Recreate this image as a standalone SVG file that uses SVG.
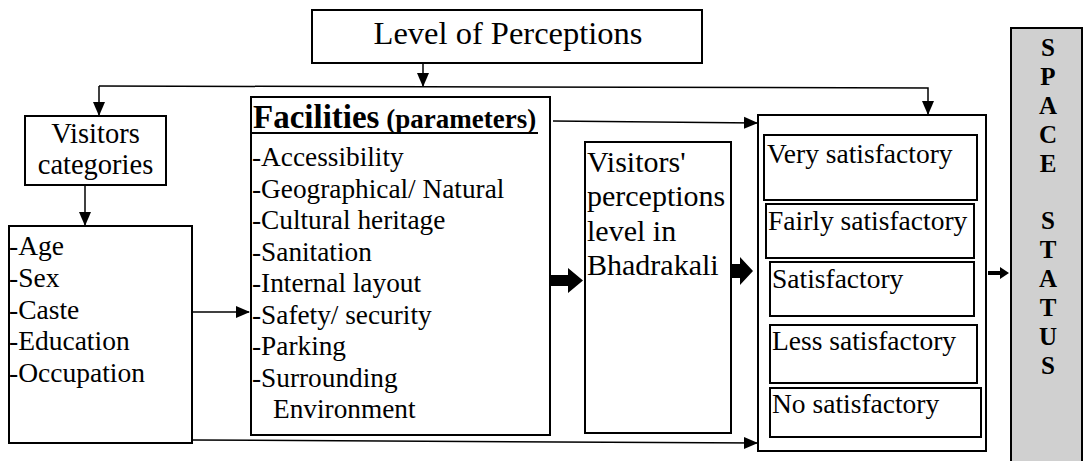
<svg xmlns="http://www.w3.org/2000/svg" width="1083" height="461" viewBox="0 0 1083 461">
<defs>
<marker id="ah" markerWidth="14" markerHeight="14" refX="13" refY="7" orient="auto" markerUnits="userSpaceOnUse">
<path d="M0,1 L14,7 L0,13 Z" fill="#000"/>
</marker>
<style>
.box{fill:#fff;stroke:#000;stroke-width:2}
.t{font-family:"Liberation Serif","Times New Roman",serif;fill:#000}
.c{fill:none;stroke:#000;stroke-width:1.5}
.blk{fill:#000}
.v{font-family:"Liberation Serif","Times New Roman",serif;font-weight:bold;font-size:25px;text-anchor:middle;fill:#000}
</style>
</defs>
<rect width="1083" height="461" fill="#fff"/>

<g id="connectors">
<path class="c" d="M423,63 V86" marker-end="url(#ah)"/>
<path class="c" d="M99,86 L928,88 V114" marker-end="url(#ah)"/>
<path class="c" d="M99,86 V115" marker-end="url(#ah)"/>
<path class="c" d="M85,185 V225" marker-end="url(#ah)"/>
<path class="c" d="M192,312 H249" marker-end="url(#ah)"/>
<path class="c" d="M553,121 L757,123" marker-end="url(#ah)"/>
<path class="c" d="M192,440 L757,443" marker-end="url(#ah)"/>
<polygon class="blk" points="550,275 568,275 568,268 583,280.5 568,293 568,286 550,286"/>
<polygon class="blk" points="730,264 740,264 740,257 753,271 740,285 740,278 730,278"/>
<polygon class="blk" points="988,271 1000,271 1000,267 1009,273 1000,279 1000,275 988,275"/>
</g>

<g id="level">
<rect class="box" x="312" y="10" width="390" height="53"/>
<text class="t" x="508" y="44" font-size="32.5" text-anchor="middle">Level of Perceptions</text>
</g>

<g id="visitors-categories">
<rect class="box" x="25" y="116" width="141" height="69"/>
<text class="t" x="95.5" y="143" font-size="28.5" text-anchor="middle">Visitors</text>
<text class="t" x="95.5" y="174" font-size="28.5" text-anchor="middle">categories</text>
</g>

<g id="categories-list">
<rect class="box" x="9" y="226" width="183" height="217"/>
<text class="t" font-size="27.5">
<tspan x="9" y="255">-Age</tspan>
<tspan x="9" y="287">-Sex</tspan>
<tspan x="9" y="318.5">-Caste</tspan>
<tspan x="9" y="350">-Education</tspan>
<tspan x="9" y="381.5">-Occupation</tspan>
</text>
</g>

<g id="facilities">
<rect class="box" x="251" y="97" width="299" height="338"/>
<text class="t" x="253" y="128" font-weight="bold"><tspan font-size="33">Facilities</tspan><tspan font-size="27"> (parameters)</tspan></text>
<line x1="251" y1="133" x2="538" y2="133" stroke="#000" stroke-width="2"/>
<text class="t" font-size="27.3">
<tspan x="252" y="166">-Accessibility</tspan>
<tspan x="252" y="197.5">-Geographical/ Natural</tspan>
<tspan x="252" y="229">-Cultural heritage</tspan>
<tspan x="252" y="260.5">-Sanitation</tspan>
<tspan x="252" y="292">-Internal layout</tspan>
<tspan x="252" y="323.5">-Safety/ security</tspan>
<tspan x="252" y="355">-Parking</tspan>
<tspan x="252" y="386.5">-Surrounding</tspan>
<tspan x="273" y="418">Environment</tspan>
</text>
</g>

<g id="perceptions">
<rect class="box" x="585" y="142" width="146" height="291"/>
<text class="t" font-size="30">
<tspan x="587" y="172">Visitors'</tspan>
<tspan x="587" y="206">perceptions</tspan>
<tspan x="587" y="241">level in</tspan>
<tspan x="587" y="275">Bhadrakali</tspan>
</text>
</g>

<g id="satisfaction">
<rect class="box" x="758" y="115" width="228" height="336"/>
<rect class="box" x="764" y="135" width="213" height="65"/>
<text class="t" x="767" y="163" font-size="27.5">Very satisfactory</text>
<rect class="box" x="766" y="204" width="208" height="54"/>
<text class="t" x="768" y="230" font-size="27.5">Fairly satisfactory</text>
<rect class="box" x="770" y="262" width="204" height="54"/>
<text class="t" x="772" y="288" font-size="27.5">Satisfactory</text>
<rect class="box" x="770" y="325" width="207" height="58"/>
<text class="t" x="772" y="350" font-size="27.5">Less satisfactory</text>
<rect class="box" x="770" y="388" width="211" height="49"/>
<text class="t" x="772" y="413" font-size="27.5">No satisfactory</text>
</g>

<g id="space-status">
<rect x="1011" y="28" width="71" height="440" fill="#d0d0d0" stroke="#000" stroke-width="2"/>
<text class="v" x="1048" y="56">S</text>
<text class="v" x="1048" y="85">P</text>
<text class="v" x="1048" y="114">A</text>
<text class="v" x="1048" y="143">C</text>
<text class="v" x="1048" y="172">E</text>
<text class="v" x="1048" y="229">S</text>
<text class="v" x="1048" y="258">T</text>
<text class="v" x="1048" y="287">A</text>
<text class="v" x="1048" y="316">T</text>
<text class="v" x="1048" y="345">U</text>
<text class="v" x="1048" y="374">S</text>
</g>
</svg>
